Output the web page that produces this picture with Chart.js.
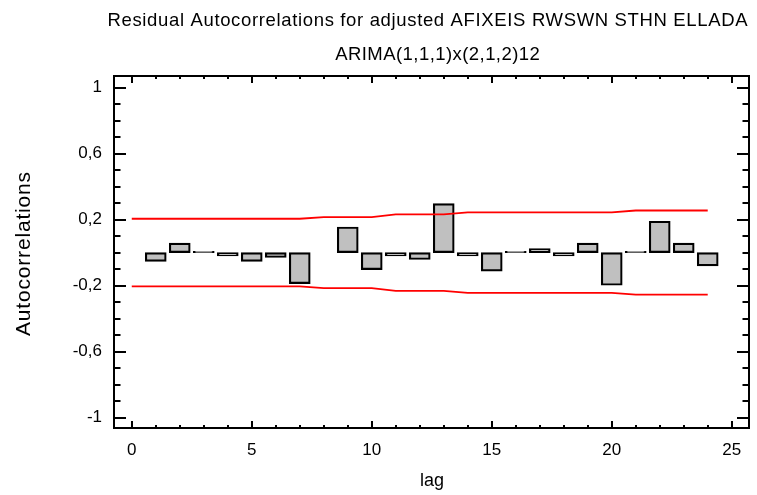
<!DOCTYPE html>
<html>
<head>
<meta charset="utf-8">
<script src="https://cdn.jsdelivr.net/npm/chart.js@4.4.1/dist/chart.umd.min.js"></script>
<style>
  html, body { margin: 0; padding: 0; background: #fff; }
  #wrap { width: 757px; height: 495px; }
</style>
</head>
<body>
<div id="wrap"><canvas id="acfChart"></canvas></div>
<script>
// residual autocorrelations, lags 1..24
const lags = [1, 2, 3, 4, 5, 6, 7, 8, 9, 10, 11, 12, 13, 14, 15, 16, 17, 18, 19, 20, 21, 22, 23, 24];
const autocorrelations = [-0.053, 0.058, 0.008, -0.021, -0.053, -0.030, -0.188, 0, 0.155, -0.103, -0.021, -0.042,
                          0.297, -0.021, -0.113, 0.008, 0.024, -0.021, 0.058, -0.198, 0.008, 0.190, 0.058, -0.081];

// probability limits (red lines), lags 0..24
const limitLags = [0, 1, 2, 3, 4, 5, 6, 7, 8, 9, 10, 11, 12, 13, 14, 15, 16, 17, 18, 19, 20, 21, 22, 23, 24];
const upperLimits = [0.205, 0.205, 0.205, 0.205, 0.205, 0.205, 0.205, 0.205, 0.215, 0.215, 0.215, 0.232, 0.232,
                     0.232, 0.244, 0.244, 0.244, 0.244, 0.244, 0.244, 0.244, 0.255, 0.255, 0.255, 0.255];
const lowerLimits = [-0.205, -0.205, -0.205, -0.205, -0.205, -0.205, -0.205, -0.205, -0.215, -0.215, -0.215, -0.232, -0.232,
                     -0.232, -0.244, -0.244, -0.244, -0.244, -0.244, -0.244, -0.244, -0.255, -0.255, -0.255, -0.255];

const xTicks = [0, 5, 10, 15, 20, 25];
const yTicks = [-1, -0.6, -0.2, 0.2, 0.6, 1];

const titleLines = ['Residual Autocorrelations for adjusted AFIXEIS RWSWN STHN ELLADA', 'ARIMA(1,1,1)x(2,1,2)12'];
const xTitle = 'lag';
const yTitle = 'Autocorrelations';

const FONT = '"Liberation Sans", Arial, sans-serif';

// draw text squeezed/stretched to a given width
function fitText(ctx, text, cx, y, width) {
    ctx.letterSpacing = '0px';
    const natural = ctx.measureText(text).width;
    const ls = (width - natural) / text.length;
    ctx.letterSpacing = ls.toFixed(2) + 'px';
    ctx.fillText(text, cx + ls / 2, y);
    ctx.letterSpacing = '0px';
}

const framePlugin = {
    id: 'frame',
    afterDraw(chart) {
        const { ctx, chartArea: a, scales: { x, y } } = chart;
        ctx.save();
        ctx.strokeStyle = '#000';
        ctx.lineWidth = 2;
        ctx.strokeRect(a.left, a.top, a.right - a.left, a.bottom - a.top);

        // inward ticks on all four sides
        ctx.beginPath();
        for (let v = 0; v <= 25; v++) {
            const px = Math.round(x.getPixelForValue(v));
            const len = v % 5 === 0 ? 7 : 3;
            ctx.moveTo(px, a.bottom); ctx.lineTo(px, a.bottom - len);
            ctx.moveTo(px, a.top); ctx.lineTo(px, a.top + len);
        }
        for (let i = -10; i <= 10; i++) {
            const py = Math.round(y.getPixelForValue(i / 10));
            const len = (i + 10) % 4 === 0 ? 12 : 6.5;
            ctx.moveTo(a.left, py); ctx.lineTo(a.left + len, py);
            ctx.moveTo(a.right, py); ctx.lineTo(a.right - len, py);
        }
        ctx.stroke();

        // titles
        ctx.fillStyle = '#000';
        ctx.textAlign = 'center';
        ctx.textBaseline = 'alphabetic';
        ctx.font = '18.5px ' + FONT;
        fitText(ctx, titleLines[0], 427.5, 26, 641);
        fitText(ctx, titleLines[1], 437.5, 60, 205);

        ctx.font = '18px ' + FONT;
        ctx.textBaseline = 'middle';
        ctx.fillText(xTitle, 432, 481);

        ctx.translate(24, 254);
        ctx.rotate(-Math.PI / 2);
        ctx.font = '21px ' + FONT;
        fitText(ctx, yTitle, 0, 0, 165);
        ctx.restore();
    }
};

new Chart(document.getElementById('acfChart'), {
    type: 'bar',
    data: {
        datasets: [
            {
                type: 'bar',
                data: lags.map((l, i) => ({ x: l, y: autocorrelations[i] })),
                backgroundColor: '#c0c0c0',
                borderColor: '#000',
                borderWidth: 2.2,
                borderSkipped: false,
                barThickness: 21,
                order: 2
            },
            {
                type: 'line',
                data: limitLags.map((l, i) => ({ x: l, y: upperLimits[i] })),
                borderColor: '#ff0000',
                borderWidth: 1.8,
                pointRadius: 0,
                fill: false,
                order: 1
            },
            {
                type: 'line',
                data: limitLags.map((l, i) => ({ x: l, y: lowerLimits[i] })),
                borderColor: '#ff0000',
                borderWidth: 1.8,
                pointRadius: 0,
                fill: false,
                order: 1
            }
        ]
    },
    options: {
        responsive: true,
        maintainAspectRatio: false,
        animation: false,
        layout: { padding: { top: 76, right: 8, bottom: 0, left: 0 } },
        plugins: { legend: { display: false }, tooltip: { enabled: false } },
        scales: {
            x: {
                type: 'linear',
                offset: false,
                min: -0.74,
                max: 25.72,
                grid: { display: false, offset: false },
                border: { display: false },
                afterBuildTicks: (s) => { s.ticks = xTicks.map(v => ({ value: v })); },
                afterFit: (s) => { s.height = 67; },
                ticks: {
                    autoSkip: false,
                    maxRotation: 0,
                    padding: 4,
                    color: '#000',
                    font: { family: FONT, size: 17 }
                }
            },
            y: {
                min: -1.063,
                max: 1.07,
                beginAtZero: false,
                grid: { display: false },
                border: { display: false },
                afterBuildTicks: (s) => { s.ticks = yTicks.map(v => ({ value: v })); },
                afterFit: (s) => { s.width = 114; },
                ticks: {
                    padding: 4,
                    color: '#000',
                    font: { family: FONT, size: 17 },
                    callback: (v) => String(v).replace('.', ',')
                }
            }
        }
    },
    plugins: [framePlugin]
});
</script>
</body>
</html>
